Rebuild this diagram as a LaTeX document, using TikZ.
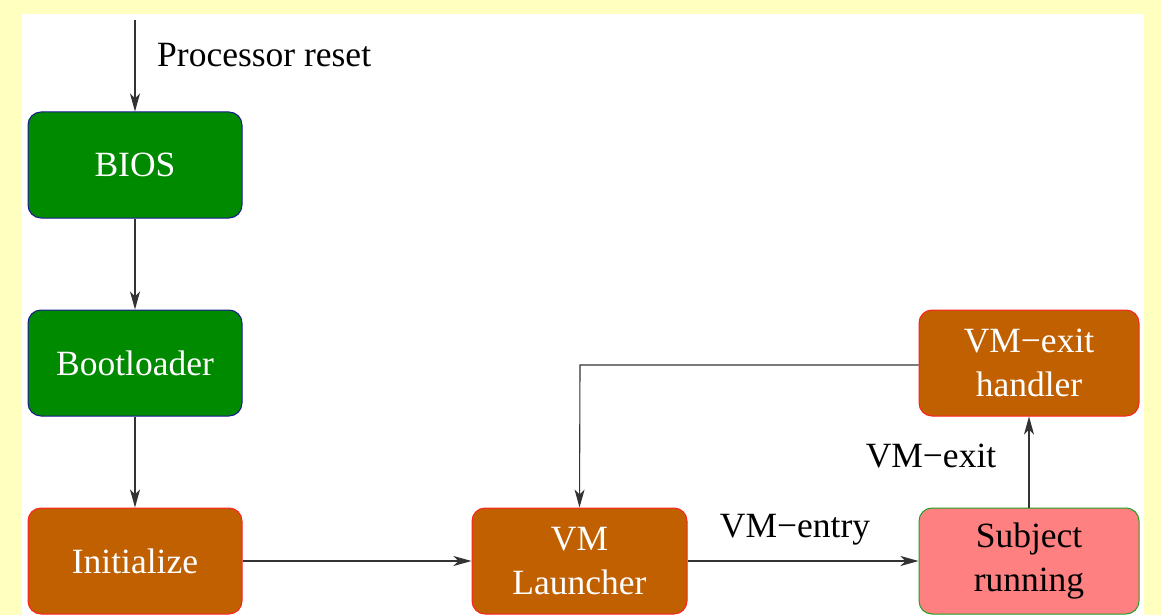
\documentclass[tikz,border=0pt]{standalone}
\usepackage{fontspec}
\setmainfont{Liberation Serif}
\usetikzlibrary{arrows.meta}
\definecolor{bgyellow}{HTML}{FFFFC0}
\definecolor{boxgreen}{HTML}{008A00}
\definecolor{boxorange}{HTML}{C06000}
\definecolor{boxpink}{HTML}{FF8080}
\definecolor{edgeblue}{HTML}{1A1A90}
\definecolor{edgered}{HTML}{FF2020}
\definecolor{edgegreen}{HTML}{20A020}
\begin{document}
\begin{tikzpicture}[x=1pt,y=-1pt,
  txt/.style={font=\fontsize{35.5}{44}\selectfont},
  box/.style={txt,rectangle,rounded corners=13pt,minimum width=214pt,minimum height=106pt,
    align=center,inner sep=0pt,line width=1pt},
  gbox/.style={box,fill=boxgreen,draw=edgeblue,text=white},
  obox/.style={box,fill=boxorange,draw=edgered,text=white},
  pbox/.style={box,fill=boxpink,draw=edgegreen,text=black,minimum width=220pt},
  conn/.style={draw=black!80,line width=1.1pt,-{Stealth[length=18pt,width=10pt,inset=5pt]}},
  lbl/.style={txt,inner sep=0pt}]
\useasboundingbox (0,0) rectangle (1161,615);
\fill[bgyellow] (0,0) rectangle (1161,615);
\fill[white] (22,14) rectangle (1144,615);
\node[gbox] (bios) at (135,165) {BIOS};
\node[gbox] (boot) at (135,363) {Bootloader};
\node[obox] (init) at (135,561) {Initialize};
\node[obox,minimum width=215pt] (launch) at (579.5,561) {VM\\Launcher};
\node[pbox] (subj) at (1029,561) {Subject\\running};
\node[obox,minimum width=220pt] (handler) at (1029,363) {VM−exit\\handler};
\coordinate (start) at (135,20);
\coordinate (bend) at (580,365);
\draw[conn] (start) -- (bios.north);
\draw[conn] (bios.south) -- (boot.north);
\draw[conn] (boot.south) -- (init.north);
\draw[conn] (init.east) -- (launch.west);
\draw[conn] (launch.east) -- (subj.west);
\draw[conn] (subj.north) -- (handler.south);
\draw[conn] (handler.west |- bend) -- (bend) -- (launch.north);
\node[lbl,anchor=west] (lreset) at (157,55) {Processor reset};
\node[lbl] (lentry) at (795,530) {VM−entry};
\node[lbl] (lexit) at (931,456) {VM−exit};
\end{tikzpicture}
\end{document}
